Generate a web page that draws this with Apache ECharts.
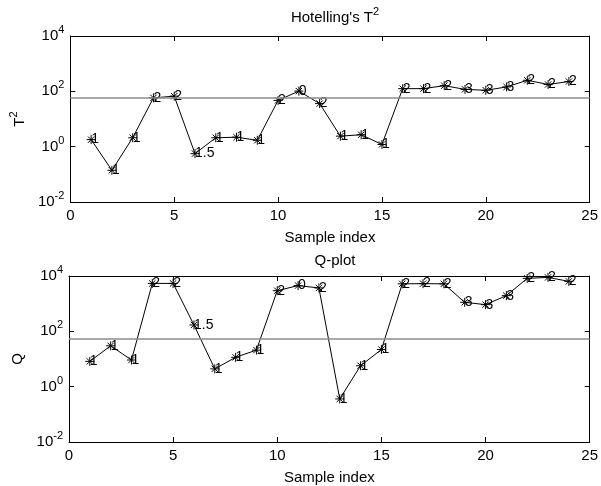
<!DOCTYPE html>
<html>
<head>
<meta charset="utf-8">
<script src="https://cdn.jsdelivr.net/npm/echarts@6/dist/echarts.min.js"></script>
<style>html,body{margin:0;padding:0;background:#fff}#c{width:601px;height:486px}</style>
</head>
<body>
<div id="c"></div>
<script>
var sampleIndex = [1,2,3,4,5,6,7,8,9,10,11,12,13,14,15,16,17,18,19,20,21,22,23,24];
var t2Values = [1.8,0.14,2.1,58,67,0.56,2.1,2.2,1.7,47,102,36,2.4,2.7,1.2,125,125,160,118,109,144,251,177,226];
var qValues = [8.2,30,9.2,5400,5400,170,4.4,11.5,21,2950,4500,3700,0.36,5.7,22,5200,5300,5200,1120,920,1950,8200,8900,6400];
var pointLabels = ['1','1','1','2','2','1.5','1','1','1','2','0','2','1','1','1','2','2','2','3','3','3','2','2','2'];
var t2Limit = 60;
var qLimit = 56;
var xTicks = [0,5,10,15,20,25];

var FONT = '"Liberation Sans", Arial, Helvetica, sans-serif';
var star = 'path://M0,-5L0,5M-5,0L5,0M-3.5,-3.5L3.5,3.5M-3.5,3.5L3.5,-3.5';
var supRich = {
  b: {fontSize: 15, fontFamily: FONT, color: '#000', verticalAlign: 'bottom', lineHeight: 15},
  s: {fontSize: 11, fontFamily: FONT, color: '#000', verticalAlign: 'bottom', lineHeight: 11, padding: [0,0,8,0]}
};

function xAx(gi, pos, labels) {
  return {
    type: 'value', gridIndex: gi, position: pos, min: xTicks[0], max: xTicks[xTicks.length-1], interval: xTicks[1]-xTicks[0],
    axisLine: {show: true, onZero: false, lineStyle: {color: '#000', width: 1}},
    axisTick: {show: true, inside: true, length: 5, lineStyle: {color: '#000'}},
    axisLabel: {show: labels, margin: 6, fontSize: 15, fontFamily: FONT, color: '#000'},
    splitLine: {show: false},
    name: labels ? 'Sample index' : '', nameLocation: 'middle', nameGap: 28,
    nameTextStyle: {fontSize: 15, fontFamily: FONT, color: '#000'}
  };
}
function yAx(gi, pos, labels, nm) {
  return {
    type: 'log', logBase: 10, gridIndex: gi, position: pos, min: 0.01, max: 10000, interval: 2,
    axisLine: {show: true, onZero: false, lineStyle: {color: '#000', width: 1}},
    axisTick: {show: true, inside: true, length: 5, lineStyle: {color: '#000'}},
    axisLabel: {show: labels, margin: 6, fontFamily: FONT, color: '#000', rich: supRich,
      formatter: function (v) { var e = Math.round(Math.log10(v)); return '{b|10}{s|' + e + '}'; }},
    splitLine: {show: false},
    name: labels ? nm : '', nameLocation: 'middle', nameGap: 43, nameRotate: 90,
    nameTextStyle: {fontFamily: FONT, color: '#000', rich: supRich}
  };
}
function ser(gi, vals, limit) {
  return {
    type: 'line', xAxisIndex: gi*2, yAxisIndex: gi*2,
    data: sampleIndex.map(function (x, i) { return [x, vals[i]]; }),
    symbol: star, symbolSize: 9, showAllSymbol: true,
    lineStyle: {color: '#000', width: 1},
    itemStyle: {color: '#000', borderColor: '#000', borderWidth: 1},
    label: {show: true, position: 'right', distance: -5, fontSize: 14, fontFamily: FONT, color: '#000',
      formatter: function (p) { return pointLabels[p.dataIndex]; }},
    markLine: {silent: true, symbol: 'none', label: {show: false},
      lineStyle: {color: '#8c8c8c', width: 1.5, type: 'solid'}, data: [{yAxis: limit}]},
    animation: false
  };
}

var chart = echarts.init(document.getElementById('c'), null, {renderer: 'canvas'});
chart.setOption({
  animation: false,
  backgroundColor: '#fff',
  title: [
    {text: "{b|Hotelling's T}{s|2}", left: 330, top: 5, textAlign: 'center',
      textStyle: {fontSize: 15, fontWeight: 'normal', fontFamily: FONT, color: '#000', rich: supRich}},
    {text: 'Q-plot', left: 330, top: 248, textAlign: 'center',
      textStyle: {fontSize: 15, fontWeight: 'normal', fontFamily: FONT, color: '#000'}}
  ],
  grid: [
    {left: 69, right: 11, top: 36, height: 166},
    {left: 69, right: 11, top: 276, height: 166}
  ],
  xAxis: [xAx(0, 'bottom', true), xAx(0, 'top', false), xAx(1, 'bottom', true), xAx(1, 'top', false)],
  yAxis: [yAx(0, 'left', true, '{b|T}{s|2}'), yAx(0, 'right', false), yAx(1, 'left', true, '{b|Q}'), yAx(1, 'right', false)],
  series: [ser(0, t2Values, t2Limit), ser(1, qValues, qLimit)]
});
</script>
</body>
</html>
